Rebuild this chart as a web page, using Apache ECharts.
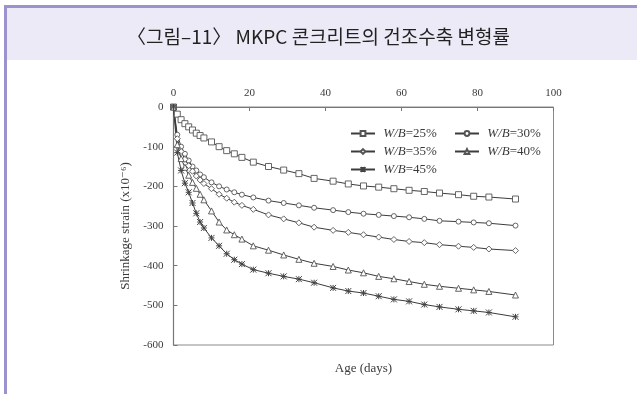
<!DOCTYPE html>
<html>
<head>
<meta charset="utf-8">
<script src="https://cdn.jsdelivr.net/npm/echarts@6/dist/echarts.min.js"></script>
<style>
html,body{margin:0;padding:0;background:#fff;}
#c{width:637px;height:394px;}
</style>
</head>
<body>
<div id="c"></div>
<script>
const days = [0,1,2,3,4,5,6,7,8,10,12,14,16,18,21,25,29,33,37,42,46,50,54,58,62,66,70,75,79,83,90];
const wb25 = [0,-18,-32,-42,-50,-58,-66,-72,-78,-88,-100,-110,-118,-127,-139,-150,-159,-168,-180,-187,-194,-199,-202,-206,-210,-213,-217,-221,-225,-227,-232];
const wb30 = [0,-70,-100,-118,-135,-150,-160,-170,-177,-190,-200,-208,-215,-221,-228,-236,-242,-248,-254,-260,-265,-269,-272,-275,-278,-282,-287,-289,-291,-293,-299];
const wb35 = [0,-80,-112,-132,-148,-162,-174,-184,-193,-206,-220,-230,-240,-248,-258,-272,-282,-292,-303,-311,-316,-322,-328,-334,-339,-342,-347,-351,-354,-358,-362];
const wb40 = [0,-95,-130,-152,-172,-190,-205,-220,-234,-262,-290,-310,-322,-333,-350,-361,-373,-384,-394,-402,-411,-418,-427,-433,-440,-447,-452,-457,-461,-465,-474];
const wb45 = [0,-115,-160,-192,-215,-242,-268,-290,-305,-330,-350,-370,-385,-396,-410,-419,-427,-434,-443,-456,-464,-469,-477,-485,-490,-498,-504,-510,-514,-518,-529];
const seriesNames = ['W/B=25%','W/B=30%','W/B=35%','W/B=40%','W/B=45%'];
const legendLeftCol = ['W/B=25%','W/B=35%','W/B=45%'];
const legendRightCol = ['W/B=30%','W/B=40%'];
const xTicks = [0,20,40,60,80,100];
const yTicks = [0,-100,-200,-300,-400,-500,-600];
const titleText = '〈그림–11〉 MKPC 콘크리트의 건조수축 변형률';

const serif = '"Liberation Serif","DejaVu Serif",serif';
const ink = '#3a3a3a';
const crossPath = 'path://M0,0L10,10M10,0L0,10M5,0L5,10M0,5L10,5';
const symbols = ['rect','circle','diamond','triangle',crossPath];
const sizes = [6,5,6,6,6];
const allData = [wb25,wb30,wb35,wb40,wb45];

function legendCfg(left, names){
  return {
    left:left, top:122, orient:'vertical',
    itemWidth:24, itemHeight:6, itemGap:5,
    data:names,
    formatter:function(n){ return ' {i|W/B}' + n.slice(3); },
    textStyle:{fontFamily:serif, fontSize:13, color:ink,
      rich:{i:{fontFamily:serif, fontSize:13, fontStyle:'italic', color:ink}}}
  };
}

const chart = echarts.init(document.getElementById('c'), null, {renderer:'canvas'});
chart.setOption({
  animation:false,
  backgroundColor:'#ffffff',
  title:{
    text:titleText, left:'center', top:22,
    textStyle:{fontFamily:'"Noto Sans CJK KR",sans-serif', fontSize:19, fontWeight:'normal', color:'#222'}
  },
  graphic:[
    {type:'rect', z:-10, shape:{x:7,y:8,width:630,height:52}, style:{fill:'#ECEAF6'}},
    {type:'rect', z:-9, shape:{x:4,y:5,width:633,height:3}, style:{fill:'#9C93CE'}},
    {type:'rect', z:-9, shape:{x:4,y:5,width:3,height:389}, style:{fill:'#9C93CE'}}
  ],
  legend:[legendCfg(345, legendLeftCol), legendCfg(449, legendRightCol)],
  grid:{left:173.5, right:83.5, top:107, bottom:49, show:true, borderColor:'#8a8a8a', borderWidth:1, backgroundColor:'transparent'},
  xAxis:[{
    type:'value', position:'top', min:0, max:100, interval:20,
    axisLine:{show:true, lineStyle:{color:'#777', width:1.2}},
    axisTick:{show:true, inside:true, length:4, lineStyle:{color:'#777'}},
    axisLabel:{fontFamily:serif, fontSize:11, color:ink, margin:8,
      formatter:function(v){ return xTicks.indexOf(v)>=0 ? String(v) : ''; }},
    splitLine:{show:false}
  },{
    type:'value', position:'bottom', min:0, max:100,
    axisLine:{show:false}, axisTick:{show:false}, axisLabel:{show:false}, splitLine:{show:false},
    name:'Age (days)', nameLocation:'middle', nameGap:17,
    nameTextStyle:{fontFamily:serif, fontSize:13, color:ink}
  }],
  yAxis:{
    type:'value', min:-600, max:0, interval:100,
    axisLine:{show:true, lineStyle:{color:'#777', width:1.2}},
    axisTick:{show:true, inside:true, length:4, lineStyle:{color:'#777'}},
    axisLabel:{fontFamily:serif, fontSize:11, color:ink, margin:10,
      formatter:function(v){ return yTicks.indexOf(v)>=0 ? String(v) : ''; }},
    splitLine:{show:false},
    name:'Shrinkage strain (x10⁻⁶)', nameLocation:'middle', nameGap:34, nameRotate:90,
    nameTextStyle:{fontFamily:serif, fontSize:13, color:ink}
  },
  series: seriesNames.map(function(name,i){
    const isCross = (i===4);
    return {
      name:name, type:'line', xAxisIndex:0,
      data: days.map(function(d,k){ return [d, allData[i][k]]; }),
      symbol:symbols[i], symbolSize: sizes[i],
      showSymbol:true,
      lineStyle:{color:'#3c3c3c', width:1},
      itemStyle: isCross ? {color:'#444', borderColor:'#444', borderWidth:1}
                         : {color:'#ffffff', borderColor:'#555', borderWidth:0.9},
      emphasis:{disabled:true}
    };
  })
});
</script>
</body>
</html>
